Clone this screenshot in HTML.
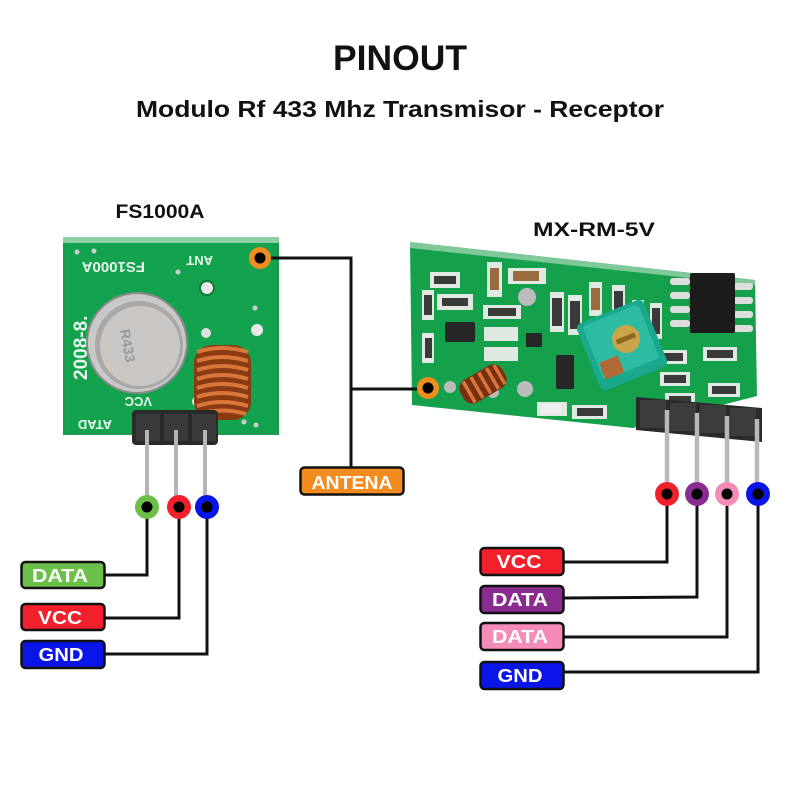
<!DOCTYPE html>
<html><head><meta charset="utf-8"><style>
html,body{margin:0;padding:0;background:#fff;}
svg{display:block;}
text{font-family:"Liberation Sans",sans-serif;font-weight:bold;}
</style></head><body>
<svg width="800" height="800" viewBox="0 0 800 800" xmlns="http://www.w3.org/2000/svg">
<rect width="800" height="800" fill="#fff"/>
<!-- Titles -->
<text x="400" y="70" text-anchor="middle" font-size="35" fill="#111" textLength="134" lengthAdjust="spacingAndGlyphs">PINOUT</text>
<text x="400" y="117" text-anchor="middle" font-size="23" fill="#111" textLength="528" lengthAdjust="spacingAndGlyphs">Modulo Rf 433 Mhz Transmisor - Receptor</text>
<text x="160" y="218" text-anchor="middle" font-size="19" fill="#111" textLength="89" lengthAdjust="spacingAndGlyphs">FS1000A</text>
<text x="594" y="236" text-anchor="middle" font-size="19" fill="#111" textLength="122" lengthAdjust="spacingAndGlyphs">MX-RM-5V</text>

<!-- LEFT BOARD FS1000A -->
<rect x="63" y="237" width="216" height="198" fill="#1a9c50"/>
<rect x="63" y="237" width="216" height="6" fill="#8fcfa5"/>
<rect x="66" y="243" width="210" height="188" fill="#13a34f"/>
<circle cx="77" cy="252" r="2.5" fill="#ccc"/><circle cx="94" cy="251" r="2.5" fill="#ccc"/>
<circle cx="178" cy="272" r="2.5" fill="#ccc"/>
<circle cx="207" cy="288" r="7" fill="#e8e8e8" stroke="#0c7a3a" stroke-width="2"/>
<circle cx="257" cy="330" r="6" fill="#e8e8e8"/>
<circle cx="255" cy="308" r="2.5" fill="#ccc"/>
<circle cx="256" cy="425" r="2.5" fill="#ccc"/><circle cx="244" cy="422" r="2.5" fill="#ccc"/>
<text x="0" y="0" font-size="15" fill="#e8f5ec" font-weight="normal" transform="translate(145,262) rotate(180)">FS1000A</text>
<text x="0" y="0" font-size="13" fill="#e8f5ec" font-weight="normal" transform="translate(213,256) rotate(180)">ANT</text>
<text x="0" y="0" font-size="19" fill="#e8f5ec" font-weight="normal" transform="translate(87,380) rotate(-90)">2008-8.</text>
<text x="0" y="0" font-size="13" fill="#e8f5ec" font-weight="normal" transform="translate(152,397) rotate(180)">VCC</text>
<text x="0" y="0" font-size="13" fill="#e8f5ec" font-weight="normal" transform="translate(112,420) rotate(180)">ATAD</text>
<text x="0" y="0" font-size="13" fill="#e8f5ec" font-weight="normal" transform="translate(201,397) rotate(180)">D</text>
<!-- metal can -->
<circle cx="137" cy="343" r="51" fill="#8a8a8a"/>
<circle cx="137" cy="343" r="49" fill="#c8c8c8"/>
<circle cx="139" cy="345" r="44" fill="#a8a8a8"/>
<circle cx="140" cy="346" r="40" fill="#c9c6c4"/>
<text x="0" y="0" font-size="14" fill="#999" font-weight="normal" transform="translate(120,330) rotate(80)">R433</text>
<circle cx="206" cy="333" r="5" fill="#ddd"/>
<!-- coil -->
<g>
<rect x="194" y="345" width="57" height="75" rx="18" fill="#8a3b12"/>
<g stroke="#d9773a" stroke-width="4" fill="none">
<path d="M197 352 Q222 344 248 352"/><path d="M197 361 Q222 353 248 361"/><path d="M197 370 Q222 362 248 370"/>
<path d="M197 379 Q222 371 248 379"/><path d="M197 388 Q222 380 248 388"/><path d="M197 397 Q222 389 248 397"/>
<path d="M197 406 Q222 398 248 406"/><path d="M199 414 Q222 407 246 414"/>
</g>
</g>
<!-- header left -->
<rect x="132" y="410" width="86" height="35" rx="4" fill="#2a2a2a"/>
<rect x="136" y="414" width="24" height="27" fill="#3a3a3a"/><rect x="164" y="414" width="24" height="27" fill="#3a3a3a"/><rect x="192" y="414" width="24" height="27" fill="#3a3a3a"/>
<g stroke="#b5b5b5" stroke-width="4">
<line x1="147" y1="430" x2="147" y2="500"/><line x1="176" y1="430" x2="176" y2="500"/><line x1="205" y1="430" x2="205" y2="500"/>
</g>

<!-- RIGHT BOARD MX-RM-5V -->
<polygon points="410,242 755,280 757,396 633,428 412,405" fill="#15a04c"/>
<polygon points="410,242 755,280 755,285 410,248" fill="#7fc89a"/>
<!-- components -->
<g fill="#dfe9e2">
<rect x="430" y="272" width="30" height="16"/><rect x="437" y="294" width="36" height="16"/>
<rect x="422" y="290" width="12" height="30"/><rect x="422" y="333" width="12" height="30"/>
<rect x="487" y="262" width="15" height="35"/><rect x="508" y="268" width="38" height="16"/>
<rect x="483" y="305" width="38" height="14"/><rect x="484" y="327" width="34" height="14"/>
<rect x="484" y="347" width="34" height="14"/>
<rect x="550" y="292" width="14" height="40"/><rect x="568" y="295" width="14" height="40"/>
<rect x="589" y="282" width="13" height="34"/><rect x="612" y="285" width="13" height="36"/>
<rect x="632" y="300" width="12" height="36"/><rect x="650" y="303" width="12" height="36"/>
<rect x="657" y="350" width="30" height="14"/><rect x="660" y="372" width="30" height="14"/>
<rect x="703" y="347" width="34" height="14"/><rect x="708" y="383" width="32" height="14"/>
<rect x="665" y="393" width="30" height="14"/>
<rect x="537" y="402" width="30" height="14"/><rect x="572" y="405" width="35" height="14"/>
</g>
<g fill="#3a3a3a">
<rect x="434" y="276" width="22" height="8"/><rect x="442" y="298" width="26" height="8"/>
<rect x="424" y="295" width="8" height="20"/><rect x="425" y="338" width="7" height="20"/>
<rect x="490" y="268" width="9" height="22" fill="#9a6a40"/><rect x="513" y="271" width="26" height="10" fill="#9a6a40"/>
<rect x="488" y="308" width="28" height="8"/><rect x="552" y="298" width="10" height="28"/><rect x="570" y="301" width="10" height="28"/>
<rect x="591" y="288" width="9" height="22" fill="#9a6a40"/><rect x="614" y="291" width="9" height="24"/>
<rect x="634" y="305" width="8" height="26"/><rect x="652" y="308" width="8" height="26"/>
<rect x="661" y="353" width="22" height="8"/><rect x="664" y="375" width="22" height="8"/>
<rect x="707" y="350" width="26" height="8"/><rect x="712" y="386" width="24" height="8"/><rect x="669" y="396" width="22" height="8"/>
<rect x="577" y="408" width="26" height="8"/>
</g>
<rect x="541" y="404" width="20" height="10" fill="#eee"/>
<rect x="445" y="322" width="30" height="20" rx="2" fill="#262626"/>
<rect x="526" y="333" width="16" height="14" fill="#262626"/>
<rect x="556" y="355" width="18" height="34" rx="2" fill="#262626"/>
<circle cx="527" cy="297" r="9" fill="#bbb"/><circle cx="525" cy="389" r="8" fill="#bbb"/>
<circle cx="450" cy="387" r="6" fill="#bbb"/><circle cx="493" cy="392" r="6" fill="#bbb"/>
<!-- IC -->
<g fill="#ddd">
<rect x="670" y="278" width="20" height="7" rx="3"/><rect x="670" y="292" width="20" height="7" rx="3"/><rect x="670" y="306" width="20" height="7" rx="3"/><rect x="670" y="320" width="20" height="7" rx="3"/>
<rect x="733" y="283" width="20" height="7" rx="3"/><rect x="733" y="297" width="20" height="7" rx="3"/><rect x="733" y="311" width="20" height="7" rx="3"/><rect x="733" y="325" width="20" height="7" rx="3"/>
</g>
<rect x="690" y="273" width="45" height="60" rx="2" fill="#1c1c1c"/>
<!-- teal cube -->
<g transform="translate(622,345) rotate(-22)">
<rect x="-36" y="-36" width="72" height="72" rx="6" fill="#1aa88f"/>
<rect x="-30" y="-32" width="60" height="58" rx="4" fill="#2dbca2"/>
<circle cx="6" cy="-4" r="14" fill="#c9a44a"/>
<rect x="-4" y="-7" width="20" height="5" fill="#8a6a20"/>
<rect x="-28" y="8" width="20" height="18" fill="#b06a35"/>
</g>
<!-- coil right -->
<g transform="translate(483,384) rotate(-30)">
<rect x="-24" y="-13" width="48" height="26" rx="10" fill="#7a3010"/>
<g stroke="#d9773a" stroke-width="3.5">
<line x1="-16" y1="-12" x2="-16" y2="12"/><line x1="-7" y1="-12" x2="-7" y2="12"/><line x1="2" y1="-12" x2="2" y2="12"/><line x1="11" y1="-12" x2="11" y2="12"/><line x1="19" y1="-11" x2="19" y2="11"/>
</g>
</g>
<!-- header right -->
<polygon points="636,397 762,408 762,442 636,430" fill="#2a2a2a"/>
<g fill="#3c3c3c">
<rect x="640" y="400" width="26" height="28"/><rect x="670" y="403" width="26" height="28"/><rect x="700" y="405" width="26" height="28"/><rect x="730" y="408" width="26" height="28"/>
</g>
<g stroke="#b8b8b8" stroke-width="4.5">
<line x1="667" y1="410" x2="667" y2="488"/><line x1="697" y1="413" x2="697" y2="488"/><line x1="727" y1="416" x2="727" y2="488"/><line x1="757" y1="419" x2="757" y2="488"/>
</g>

<!-- ANTENA connectors -->
<g stroke="#111" stroke-width="3" fill="none">
<polyline points="268,258 351,258 351,468"/>
<polyline points="351,389 420,389"/>
</g>
<circle cx="260" cy="258" r="11" fill="#f28c1f"/><circle cx="260" cy="258" r="5.5" fill="#000"/>
<circle cx="428" cy="388" r="11" fill="#f28c1f"/><circle cx="428" cy="388" r="5.5" fill="#000"/>
<rect x="300.5" y="467.5" width="103" height="27" rx="4" fill="#f28c1f" stroke="#111" stroke-width="2.5"/>
<text x="352" y="489" text-anchor="middle" font-size="18" fill="#fff" textLength="81" lengthAdjust="spacingAndGlyphs">ANTENA</text>

<!-- LEFT pin connectors -->
<g stroke="#111" stroke-width="3" fill="none">
<polyline points="147,507 147,575 104,575"/>
<polyline points="179,507 179,618 104,618"/>
<polyline points="207,507 207,654 104,654"/>
</g>
<circle cx="147" cy="507" r="12" fill="#6cc04a"/><circle cx="147" cy="507" r="5.5" fill="#000"/>
<circle cx="179" cy="507" r="12" fill="#f2202a"/><circle cx="179" cy="507" r="5.5" fill="#000"/>
<circle cx="207" cy="507" r="12" fill="#0c15e8"/><circle cx="207" cy="507" r="5.5" fill="#000"/>
<rect x="21.5" y="562" width="83" height="26" rx="4" fill="#6cc04a" stroke="#111" stroke-width="2.5"/>
<text x="60" y="582" text-anchor="middle" font-size="18" fill="#fff" textLength="56" lengthAdjust="spacingAndGlyphs">DATA</text>
<rect x="21.5" y="604" width="83" height="26" rx="4" fill="#f2202a" stroke="#111" stroke-width="2.5"/>
<text x="60" y="624" text-anchor="middle" font-size="18" fill="#fff" textLength="44" lengthAdjust="spacingAndGlyphs">VCC</text>
<rect x="21.5" y="641" width="83" height="27" rx="4" fill="#0c15e8" stroke="#111" stroke-width="2.5"/>
<text x="61" y="661" text-anchor="middle" font-size="18" fill="#fff" textLength="45" lengthAdjust="spacingAndGlyphs">GND</text>

<!-- RIGHT pin connectors -->
<g stroke="#111" stroke-width="3" fill="none">
<polyline points="667,494 667,562 564,562"/>
<polyline points="697,494 697,597 564,598"/>
<polyline points="727,494 727,637 564,637"/>
<polyline points="758,494 758,672 564,672"/>
</g>
<circle cx="667" cy="494" r="12" fill="#f2202a"/><circle cx="667" cy="494" r="5.5" fill="#000"/>
<circle cx="697" cy="494" r="12" fill="#8a2b90"/><circle cx="697" cy="494" r="5.5" fill="#000"/>
<circle cx="727" cy="494" r="12" fill="#f58cb8"/><circle cx="727" cy="494" r="5.5" fill="#000"/>
<circle cx="758" cy="494" r="12" fill="#0c15e8"/><circle cx="758" cy="494" r="5.5" fill="#000"/>
<rect x="480.5" y="548" width="83" height="27" rx="4" fill="#f2202a" stroke="#111" stroke-width="2.5"/>
<text x="519" y="568" text-anchor="middle" font-size="18" fill="#fff" textLength="45" lengthAdjust="spacingAndGlyphs">VCC</text>
<rect x="480.5" y="586" width="83" height="27" rx="4" fill="#8a2b90" stroke="#111" stroke-width="2.5"/>
<text x="520" y="606" text-anchor="middle" font-size="18" fill="#fff" textLength="56" lengthAdjust="spacingAndGlyphs">DATA</text>
<rect x="480.5" y="623" width="83" height="27" rx="4" fill="#f58cb8" stroke="#111" stroke-width="2.5"/>
<text x="520" y="643" text-anchor="middle" font-size="18" fill="#fff" textLength="56" lengthAdjust="spacingAndGlyphs">DATA</text>
<rect x="480.5" y="662" width="83" height="27" rx="4" fill="#0c15e8" stroke="#111" stroke-width="2.5"/>
<text x="520" y="682" text-anchor="middle" font-size="18" fill="#fff" textLength="45" lengthAdjust="spacingAndGlyphs">GND</text>
</svg>
</body></html>
